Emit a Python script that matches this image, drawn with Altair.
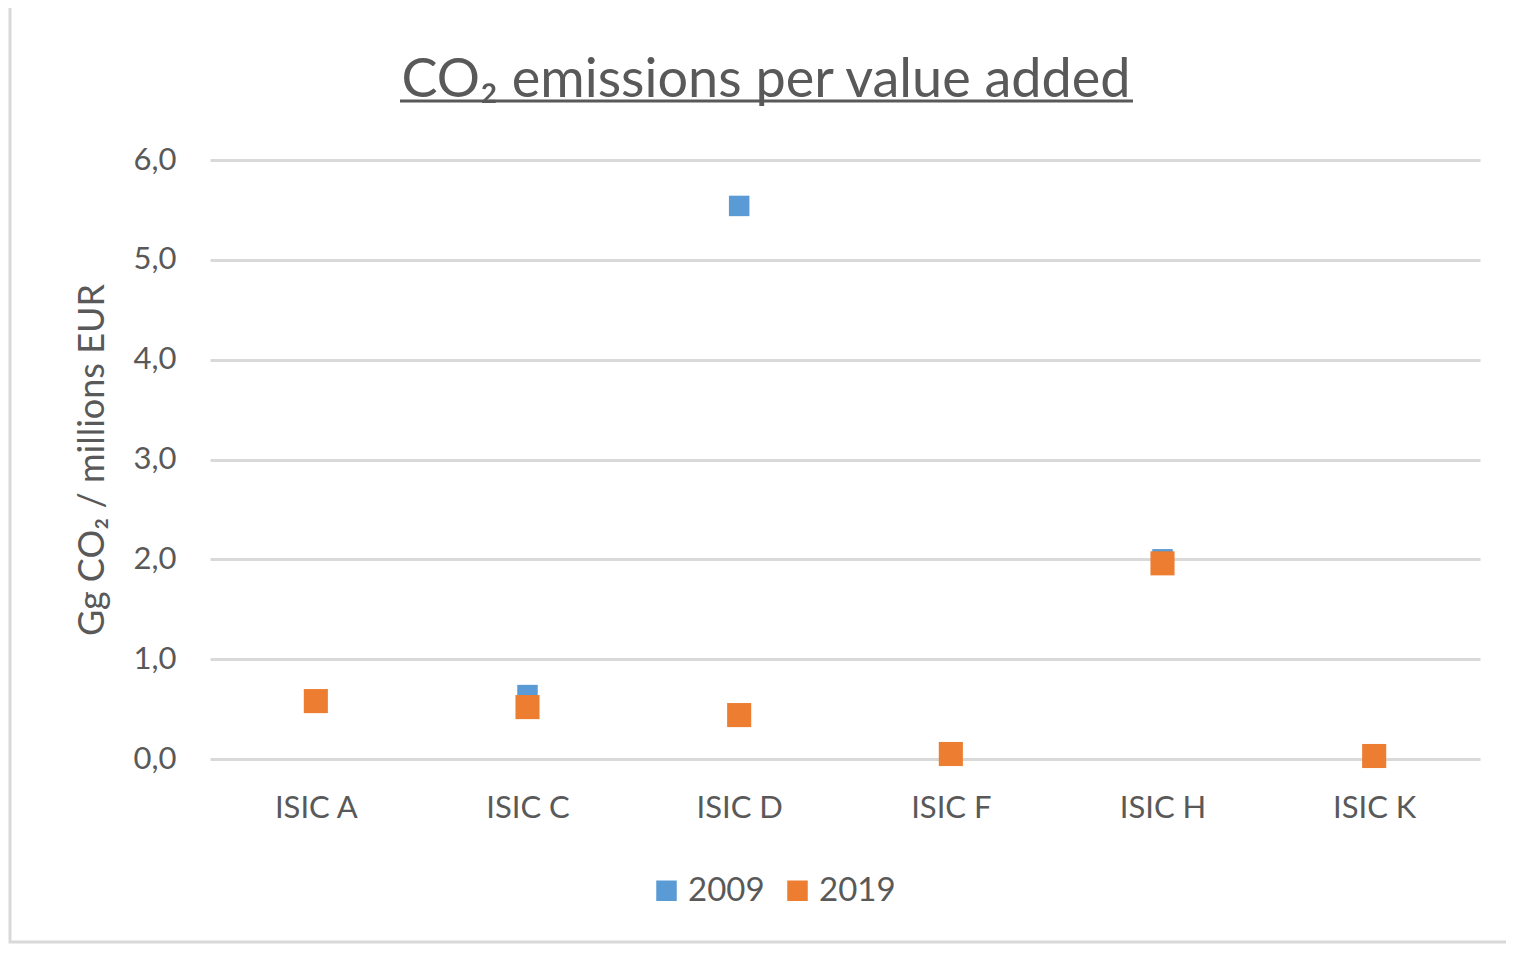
import altair as alt
import pandas as pd

categories = ["ISIC A", "ISIC C", "ISIC D", "ISIC F", "ISIC H", "ISIC K"]
values_2009 = [0.58, 0.64, 5.54, 0.05, 2.00, 0.03]
values_2019 = [0.58, 0.52, 0.44, 0.05, 1.96, 0.03]
years = ["2009", "2019"]
y_ticks = [0, 1, 2, 3, 4, 5, 6]
title_text = "CO₂ emissions per value added"

rows = []
for c, v in zip(categories, values_2009):
    rows.append({"cat": c, "year": "2009", "value": v})
for c, v in zip(categories, values_2019):
    rows.append({"cat": c, "year": "2019", "value": v})
df = pd.DataFrame(rows)
title_df = pd.DataFrame({"t": [title_text]})

FONT = "Lato"
GREY = "#595959"

x_enc = alt.X("cat:N", sort=categories, title=None,
              scale=alt.Scale(paddingInner=0, paddingOuter=0),
              axis=alt.Axis(labelAngle=0, labelFontSize=31, labelColor=GREY, labelFont=FONT,
                            ticks=False, domain=False, labelPadding=34, grid=False))
y_enc = alt.Y("value:Q", title="Gg CO₂ / millions EUR",
              scale=alt.Scale(domain=[0, 6], nice=False),
              axis=alt.Axis(values=y_ticks, labelExpr="replace(format(datum.value, '.1f'), '.', ',')",
                            labelFontSize=31, labelColor=GREY, labelFont=FONT, labelPadding=34,
                            ticks=False, domain=False, grid=True, gridColor="#d9d9d9", gridWidth=3,
                            titleFontSize=36, titleColor=GREY, titleFont=FONT, titleFontWeight="normal",
                            titlePadding=22))
color_enc = alt.Color("year:N", scale=alt.Scale(domain=years, range=["#5b9bd5", "#ed7d31"]),
                      legend=alt.Legend(title=None, orient="none", direction="horizontal",
                                        legendX=440, legendY=714, symbolType="square",
                                        symbolSize=420, symbolStrokeWidth=0, labelFontSize=33,
                                        labelColor=GREY, labelFont=FONT, columnPadding=16,
                                        labelOffset=5))

base = alt.Chart(df)
blue = base.transform_filter(alt.datum.year == "2009").mark_point(
    shape="square", filled=True, opacity=1, size=420).encode(x=x_enc, y=y_enc, color=color_enc)
orange = base.transform_filter(alt.datum.year == "2019").mark_point(
    shape="square", filled=True, opacity=1, size=580).encode(x=x_enc, y=y_enc, color=color_enc)

title_mark = alt.Chart(title_df).mark_text(
    font=FONT, fontSize=54, color=GREY, align="center", baseline="alphabetic").encode(
    text="t:N", x=alt.value(556), y=alt.value(-63))
underline = alt.Chart(title_df).mark_rule(color=GREY, strokeWidth=3).encode(
    x=alt.value(190), x2=alt.value(923), y=alt.value(-59))
frame = alt.Chart(title_df).mark_rect(fill="transparent", stroke="#d9d9d9", strokeWidth=3).encode(
    x=alt.value(-200), x2=alt.value(1310), y=alt.value(-155), y2=alt.value(782))

chart = alt.layer(frame, title_mark, underline, blue, orange).properties(
    width=1270, height=599,
    padding={"left": 202, "top": 152, "right": 26, "bottom": 185},
    autosize=alt.AutoSizeParams(type="none"),
    background="white",
).configure_view(strokeWidth=0, stroke="transparent")

chart.save("out.html", embed_options={"renderer": "svg", "actions": False})
